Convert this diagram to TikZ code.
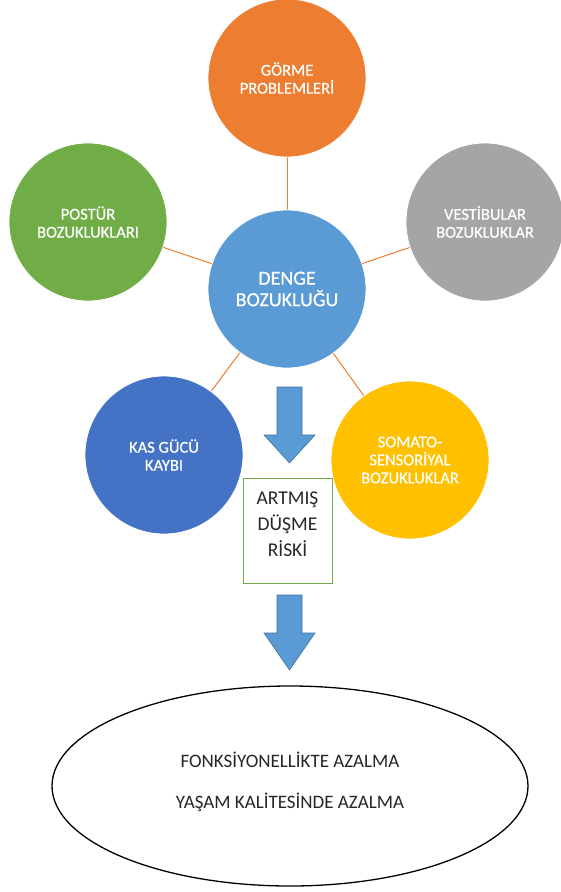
\documentclass[tikz,border=0pt]{standalone}
\usepackage{fontspec}
\setmainfont{Carlito}
\newfontfamily\semibfont[FakeBold=0.6]{Carlito}
\usetikzlibrary{shapes.geometric}
\definecolor{corange}{HTML}{ED7D31}
\definecolor{cgreen}{HTML}{70AD47}
\definecolor{cgray}{HTML}{A5A5A5}
\definecolor{cblue}{HTML}{5B9BD5}
\definecolor{cdblue}{HTML}{4472C4}
\definecolor{cyellow}{HTML}{FFC000}
\definecolor{carrowline}{HTML}{41719C}
\tikzset{
  bubble/.style={circle, minimum size=158pt, inner sep=0pt, draw=white, line width=0.8pt,
    text=white, align=center, font=\semibfont\fontsize{16.5}{18}\selectfont},
  link/.style={draw=corange, line width=1pt},
  blockarrow/.style={fill=cblue, draw=carrowline, line width=0.6pt},
  dtext/.style={font=\fontsize{19}{22}\selectfont, text=black!85, inner sep=0pt},
}
\begin{document}
\begin{tikzpicture}[x=1pt,y=-1pt]
\useasboundingbox (0,0) rectangle (560,892);
\fill[white] (0,0) rectangle (560,892);
% center node coordinates
\coordinate (cc) at (287,289);
\coordinate (oc) at (287,78);
\coordinate (gc) at (88,222);
\coordinate (vc) at (485,222);
\coordinate (kc) at (164,455);
\coordinate (sc) at (410,460);
% connectors behind
\draw[link] (cc) -- (oc);
\draw[link] (cc) -- (gc);
\draw[link] (cc) -- (vc);
\draw[link] (cc) -- (kc);
\draw[link] (cc) -- (sc);
% bubbles
\node[bubble, fill=corange] (gorme) at (oc) {GÖRME\\PROBLEMLERİ};
\node[bubble, fill=cgreen] (postur) at (gc) {POSTÜR\\BOZUKLUKLARI};
\node[bubble, fill=cgray] (vest) at (vc) {VESTİBULAR\\BOZUKLUKLAR};
\node[bubble, fill=cdblue] (kas) at (kc) {KAS GÜCÜ\\KAYBI};
\node[bubble, fill=cyellow] (somato) at (sc) {SOMATO-\\SENSORİYAL\\BOZUKLUKLAR};
\node[bubble, fill=cblue, font=\semibfont\fontsize{20}{21.5}\selectfont] (denge) at (cc) {DENGE\\BOZUKLUĞU};
% block arrow 1
\draw[blockarrow] (277,387) -- (302,387) -- (302,435) -- (315,435) -- (289.5,463) -- (264,435) -- (277,435) -- cycle;
% box
\node[draw=cgreen, line width=1.2pt, minimum width=89pt, minimum height=105pt, inner sep=0pt,
  anchor=north west] (risk) at (243,478) {};
\node[dtext, align=center, font=\fontsize{19.5}{26}\selectfont] (risktext) at (287.5,524) {ARTMIŞ\\DÜŞME\\RİSKİ};
% block arrow 2
\draw[blockarrow] (277,595) -- (302,595) -- (302,633) -- (315,633) -- (289.5,670) -- (264,633) -- (277,633) -- cycle;
% ellipse
\node[ellipse, draw=black, line width=1.3pt, minimum width=476pt, minimum height=200pt, inner sep=0pt] (sonuc) at (290,786) {};
\node[dtext] (fonk) at (290,760) {FONKSİYONELLİKTE AZALMA};
\node[dtext] (yasam) at (290,802) {YAŞAM KALİTESİNDE AZALMA};
\end{tikzpicture}
\end{document}
